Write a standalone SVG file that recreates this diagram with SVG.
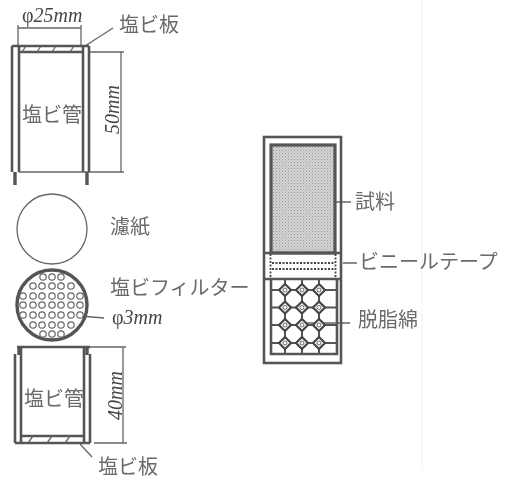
<svg xmlns="http://www.w3.org/2000/svg" width="508" height="480" viewBox="0 0 508 480">
<style>
.j{font-family:"Noto Sans CJK JP",sans-serif;font-weight:400;font-size:20px;fill:#6a6a6a}
.d{font-family:"Liberation Serif","Noto Sans CJK JP",serif;font-style:italic;font-size:20px;fill:#444}
.u{font-style:normal}
.l{stroke:#666;stroke-width:1.3;fill:none}
.w{stroke:#555;stroke-width:2.6;fill:none}
.t{stroke:#555;stroke-width:3.4;fill:none}
.h{stroke:#666;stroke-width:1.2;fill:#fff}
</style>
<defs>
<pattern id="dots" width="3" height="3" patternUnits="userSpaceOnUse"><rect width="3" height="3" fill="#d4d4d4"/><rect width="1" height="1" fill="#999"/><rect x="1.500" y="1.500" width="1" height="1" fill="#aaa"/></pattern>
<filter id="soft" filterUnits="userSpaceOnUse" x="0" y="0" width="508" height="480"><feGaussianBlur stdDeviation="0.35"/></filter>
<g id="node"><path d="M-6 0L0 -6L6 0L0 6Z" fill="#fff" stroke="#444" stroke-width="2.2"/><circle r="2" fill="#fff" stroke="#666" stroke-width="1"/></g>
</defs>
<rect width="508" height="480" fill="#fff"/>
<line x1="422" y1="0" x2="422" y2="470" stroke="#f2f2f2" stroke-width="1"/>
<g filter="url(#soft)">
<g id="connectors">
<path class="l" d="M18 25V46M81 25V46M18 28H81M85 46L113 28"/>
<path class="l" d="M90 52H124M19 172H124M121 52V172"/>
<path class="l" d="M80 316L104 318"/>
<path class="l" d="M90 347H126M94 443H127M123 347V443M80 444L92 457"/>
<path class="l" d="M302 202H351M343 263H357M302 323H350"/>
</g>
<g id="tube-top">
<path class="w" d="M12 46H89M19 52H83M12 46V172M19 46V172M83 46V172M89 46V172"/>
<path class="t" d="M15 172V185M87 172V185"/>
<path class="l" d="M22 52L26 46M37 52L41 46M52 52L56 46M70 52L74 46"/>
<text class="j" x="22" y="122">塩ビ管</text>
<text class="d" x="22" y="22"><tspan class="u">φ</tspan>25mm</text>
<text class="j" x="119" y="32">塩ビ板</text>
<text class="d" transform="translate(119 134) rotate(-90)">50mm</text>
</g>
<g id="filter-paper">
<circle class="l" cx="52" cy="229" r="35"/>
<text class="j" x="110" y="234">濾紙</text>
</g>
<g id="pvc-filter">
<circle class="t" cx="52" cy="305" r="35"/>
<g class="h">
<circle cx="43" cy="277" r="3.200"/><circle cx="52" cy="277" r="3.200"/><circle cx="61" cy="277" r="3.200"/>
<circle cx="33" cy="286" r="3.200"/><circle cx="42" cy="286" r="3.200"/><circle cx="52" cy="286" r="3.200"/><circle cx="61" cy="286" r="3.200"/><circle cx="71" cy="286" r="3.200"/>
<circle cx="23" cy="296" r="3.200"/><circle cx="33" cy="296" r="3.200"/><circle cx="42" cy="296" r="3.200"/><circle cx="52" cy="296" r="3.200"/><circle cx="61" cy="296" r="3.200"/><circle cx="71" cy="296" r="3.200"/><circle cx="80" cy="296" r="3.200"/>
<circle cx="23" cy="305" r="3.200"/><circle cx="33" cy="305" r="3.200"/><circle cx="42" cy="305" r="3.200"/><circle cx="52" cy="305" r="3.200"/><circle cx="61" cy="305" r="3.200"/><circle cx="71" cy="305" r="3.200"/><circle cx="80" cy="305" r="3.200"/>
<circle cx="23" cy="315" r="3.200"/><circle cx="33" cy="315" r="3.200"/><circle cx="42" cy="315" r="3.200"/><circle cx="52" cy="315" r="3.200"/><circle cx="61" cy="315" r="3.200"/><circle cx="71" cy="315" r="3.200"/><circle cx="80" cy="315" r="3.200"/>
<circle cx="33" cy="325" r="3.200"/><circle cx="42" cy="325" r="3.200"/><circle cx="52" cy="325" r="3.200"/><circle cx="61" cy="325" r="3.200"/><circle cx="71" cy="325" r="3.200"/>
<circle cx="43" cy="334" r="3.200"/><circle cx="52" cy="334" r="3.200"/><circle cx="61" cy="334" r="3.200"/>
</g>
<text class="j" x="110" y="295">塩ビフィルター</text>
<text class="d" x="112" y="324"><tspan class="u">φ</tspan>3mm</text>
</g>
<g id="tube-bottom">
<path class="w" d="M17 347H90M15 354V443M21 347V443M84 347V443M90 354V443M15 443H90M21 436H84"/>
<path class="t" d="M19 347V355M87 347V355"/>
<path class="l" d="M28 443L33 436M47 443L52 436M65 443L70 436"/>
<text class="j" x="24" y="406">塩ビ管</text>
<text class="d" transform="translate(122 420) rotate(-90)">40mm</text>
<text class="j" x="98" y="474">塩ビ板</text>
</g>
<g id="sample-tube">
<rect class="w" x="264" y="137" width="77" height="226"/>
<rect x="271" y="145" width="64" height="108" fill="url(#dots)" stroke="#555" stroke-width="3.200"/>
<path class="w" d="M264 253H341M264 279H341"/>
<path d="M270.500 254V279M335.500 254V279M272 263H335M272 269H335" stroke="#444" stroke-width="1.800" stroke-dasharray="2 1.500" fill="none"/>
<path class="w" d="M271 279V354H337V279"/>
<path d="M285 279V354M302 279V354M319 279V354M271 290H337M271 307.500H337M271 325H337M271 343H337" stroke="#555" stroke-width="2" fill="none"/>
<use href="#node" x="285" y="290"/><use href="#node" x="302" y="290"/><use href="#node" x="319" y="290"/>
<use href="#node" x="285" y="307.500"/><use href="#node" x="302" y="307.500"/><use href="#node" x="319" y="307.500"/>
<use href="#node" x="285" y="325"/><use href="#node" x="302" y="325"/><use href="#node" x="319" y="325"/>
<use href="#node" x="285" y="343"/><use href="#node" x="302" y="343"/><use href="#node" x="319" y="343"/>
<text class="j" x="355" y="209">試料</text>
<text class="j" x="359" y="269">ビニールテープ</text>
<text class="j" x="358" y="327">脱脂綿</text>
</g>
</g>
</svg>
